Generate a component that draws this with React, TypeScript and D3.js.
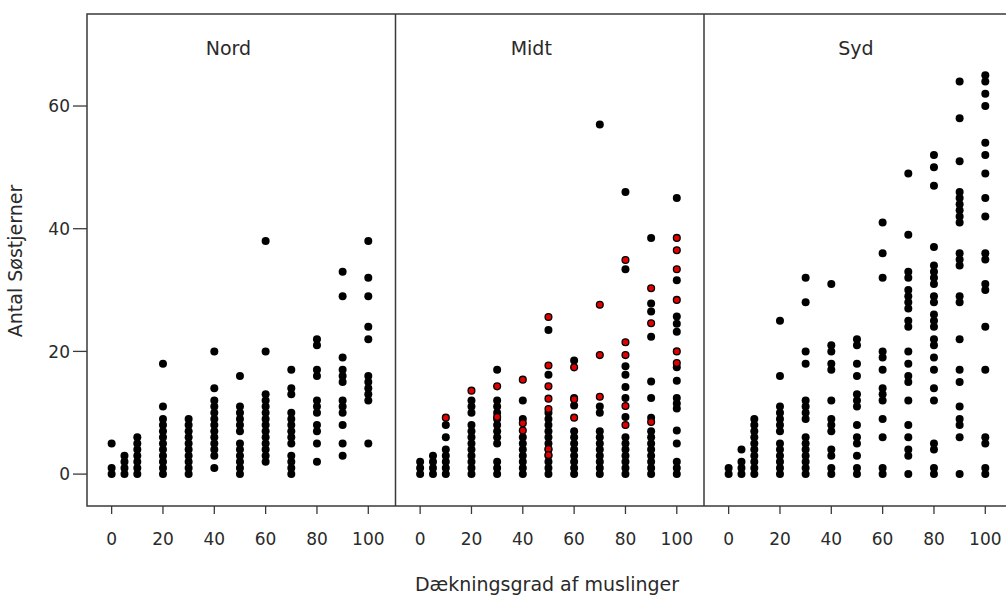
import React from "react";
import * as d3 from "d3";

// ---- data ----
const panelNames = ["Nord", "Midt", "Syd"];
const coverage = [0, 5, 10, 20, 30, 40, 50, 60, 70, 80, 90, 100];
const xTicks = [0, 20, 40, 60, 80, 100];
const yTicks = [0, 20, 40, 60];

// counts of starfish per coverage level (one array per coverage value)
const nordCounts = [
  [5, 1, 0],
  [0, 1, 2, 3],
  [0, 1, 2, 3, 4, 5, 6],
  [18, 11, 9, 8, 7, 6, 5, 4, 3, 2, 1, 0],
  [9, 8, 7, 6, 5, 4, 3, 2, 1, 0],
  [20, 14, 12, 11, 10, 9, 8, 7, 6, 5, 4, 3, 1],
  [16, 11, 10, 9, 8, 7, 5, 4, 3, 2, 1, 0],
  [38, 20, 13, 12, 11, 10, 9, 8, 7, 6, 5, 4, 3, 2],
  [17, 14, 13, 10, 9, 8, 7, 6, 5, 3, 2, 1, 0],
  [22, 21, 17, 16, 12, 11, 10, 8, 7, 5, 2],
  [33, 29, 19, 17, 16, 15, 12, 11, 10, 8, 5, 3],
  [38, 32, 29, 24, 22, 16, 15, 14, 13, 12, 5],
];

const midtBlack = [
  [2, 1, 0],
  [3, 2, 1, 0],
  [8, 6, 4, 3, 2, 1, 0],
  [12, 11, 10, 8, 7, 6, 5, 4, 3, 2, 1, 0],
  [17, 12, 11, 10, 9, 8, 7, 6, 5, 2, 1, 0],
  [12, 9, 6, 5, 4, 3, 2, 1, 0],
  [23.5, 16.2, 10, 9, 8, 7, 6, 5, 4, 3, 2, 1, 0],
  [18.5, 12.4, 11.2, 7, 6, 5, 4, 3, 2, 1, 0],
  [57, 11, 10, 7, 6, 5, 4, 3, 2, 1, 0],
  [46, 33.4, 17.6, 16.2, 14.2, 12.4, 9.3, 6, 5, 4, 3, 2, 1, 0],
  [38.5, 27.8, 26.5, 22.4, 15.1, 12.4, 9.2, 7, 6, 5, 4, 3, 2, 1, 0],
  [45, 31.6, 25.7, 24.5, 23.2, 17.4, 15.2, 12.4, 11.5, 10.7, 7.1, 5, 2, 1, 0],
];

const midtRed = [
  [],
  [],
  [9.2],
  [13.6],
  [14.3, 9.3],
  [15.4, 8.3, 7.1],
  [25.6, 17.7, 14.3, 12.3, 10.6, 4.1, 3.1],
  [17.4, 12.2, 9.2],
  [27.6, 19.4, 12.6],
  [34.9, 21.5, 19.4, 11.1, 8.0],
  [30.3, 24.6, 8.5],
  [38.5, 36.5, 33.4, 28.4, 20.0, 18.1],
];

const sydCounts = [
  [1, 0],
  [4, 2, 1, 0],
  [9, 8, 7, 6, 5, 4, 3, 2, 1, 0],
  [25, 16, 11, 10, 9, 8, 7, 5, 4, 3, 2, 1, 0],
  [32, 28, 20, 18, 12, 11, 10, 9, 6, 5, 4, 3, 2, 1, 0],
  [31, 21, 20, 18, 17, 12, 9, 8, 7, 4, 3, 1, 0],
  [22, 21, 18, 16, 13, 12, 11, 8, 6, 5, 3, 1, 0],
  [41, 36, 32, 20, 19, 17, 14, 13, 12, 9, 6, 1, 0],
  [49, 39, 33, 32, 30, 29, 28, 27, 25, 24, 20, 18, 16, 15, 12, 8, 6, 4, 3, 0],
  [52, 50, 47, 37, 34, 33, 32, 31, 29, 28, 26, 25, 24, 22, 21, 19, 17, 14, 12, 5, 4, 1, 0],
  [64, 58, 51, 46, 45, 44, 43, 42, 41, 36, 35, 34, 29, 28, 22, 17, 15, 11, 9, 8, 6, 0],
  [65, 64, 62, 60, 54, 52, 49, 45, 42, 36, 35, 31, 30, 24, 17, 6, 5, 1, 0],
];

// ---- layout ----
const W = 1006;
const H = 595;
const plotTop = 14;
const plotBottom = 506;
const firstLeft = 87;
const panelW = 308.5;
const titleCenters = [45.5, 43.3, 49.6]; // in x-data units, per panel
const FONT = "'DejaVu Sans', Verdana, sans-serif";

type Pt = { x: number; y: number; red: boolean };

function toPoints(black: number[][], red: number[][] | null): Pt[] {
  const pts: Pt[] = [];
  black.forEach((arr, i) => arr.forEach((v) => pts.push({ x: coverage[i], y: v, red: false })));
  if (red) red.forEach((arr, i) => arr.forEach((v) => pts.push({ x: coverage[i], y: v, red: true })));
  return pts;
}

const panelData: Pt[][] = [
  toPoints(nordCounts, null),
  toPoints(midtBlack, midtRed),
  toPoints(sydCounts, null),
];

export default function App() {
  const y = d3.scaleLinear().domain([-5.2, 75]).range([plotBottom, plotTop]);
  const panels = panelNames.map((name, i) => {
    const left = firstLeft + i * panelW;
    const x = d3.scaleLinear().domain([-9.6, 110.6]).range([left, left + panelW]);
    return { name, left, x, pts: panelData[i], titleX: x(titleCenters[i]) };
  });

  return (
    <svg
      width={W}
      height={H}
      style={{ position: "absolute", left: 0, top: 0, background: "#fff" }}
      fontFamily={FONT}
    >
      <rect x={0} y={0} width={W} height={H} fill="#fff" />
      {/* frame */}
      <rect
        x={firstLeft}
        y={plotTop}
        width={panelW * 3}
        height={plotBottom - plotTop}
        fill="none"
        stroke="#3a3a3a"
        strokeWidth={1.5}
      />
      {panels.slice(1).map((p) => (
        <line key={p.name} x1={p.left} x2={p.left} y1={plotTop} y2={plotBottom} stroke="#3a3a3a" strokeWidth={1.5} />
      ))}

      {/* y axis */}
      {yTicks.map((t) => (
        <g key={t}>
          <line x1={firstLeft - 14} x2={firstLeft} y1={y(t)} y2={y(t)} stroke="#3a3a3a" strokeWidth={1.3} />
          <text x={firstLeft - 17} y={y(t)} dy="0.36em" textAnchor="end" fontSize={17} fill="#2a2a2a">
            {t}
          </text>
        </g>
      ))}
      <text
        transform={`translate(22, ${(plotTop + plotBottom) / 2 + 1}) rotate(-90)`}
        textAnchor="middle"
        fontSize={19}
        fill="#2a2a2a"
      >
        Antal Søstjerner
      </text>

      {/* panels */}
      {panels.map((p) => (
        <g key={p.name}>
          <text x={p.titleX} y={55} textAnchor="middle" fontSize={19} fill="#2a2a2a">
            {p.name}
          </text>
          {xTicks.map((t) => (
            <g key={t}>
              <line x1={p.x(t)} x2={p.x(t)} y1={plotBottom} y2={plotBottom + 8} stroke="#3a3a3a" strokeWidth={1.3} />
              <text x={p.x(t)} y={545} textAnchor="middle" fontSize={17} fill="#2a2a2a">
                {t}
              </text>
            </g>
          ))}
          {p.pts
            .filter((d) => !d.red)
            .map((d, j) => (
              <circle key={"b" + j} cx={p.x(d.x)} cy={y(d.y)} r={4} fill="#000" />
            ))}
          {p.pts
            .filter((d) => d.red)
            .map((d, j) => (
              <circle key={"r" + j} cx={p.x(d.x)} cy={y(d.y)} r={3.4} fill="#e00000" stroke="#000" strokeWidth={1.3} />
            ))}
        </g>
      ))}

      <text x={547} y={591} textAnchor="middle" fontSize={19} fill="#2a2a2a">
        Dækningsgrad af muslinger
      </text>
    </svg>
  );
}
